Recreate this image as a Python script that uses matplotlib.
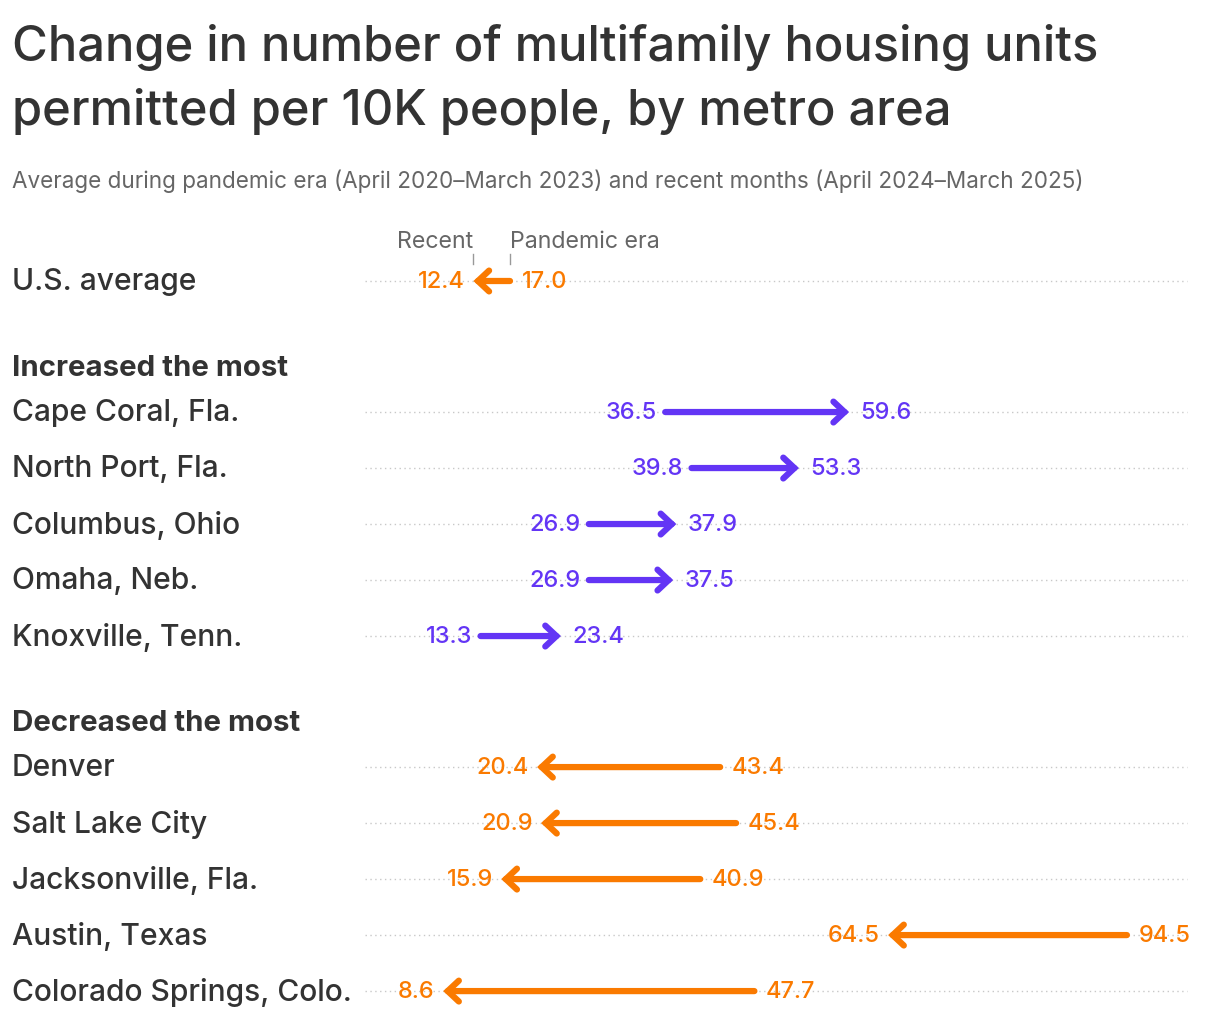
import numpy as np
import matplotlib.pyplot as plt
from matplotlib.transforms import blended_transform_factory

plt.rcParams['font.family'] = ['Inter', 'DejaVu Sans']

# data
us_label = "U.S. average"
us_pandemic = 17.0
us_recent = 12.4

up_labels = ["Cape Coral, Fla.", "North Port, Fla.", "Columbus, Ohio", "Omaha, Neb.", "Knoxville, Tenn."]
up_pandemic = [36.5, 39.8, 26.9, 26.9, 13.3]
up_recent = [59.6, 53.3, 37.9, 37.5, 23.4]

down_labels = ["Denver", "Salt Lake City", "Jacksonville, Fla.", "Austin, Texas", "Colorado Springs, Colo."]
down_pandemic = [43.4, 45.4, 40.9, 94.5, 47.7]
down_recent = [20.4, 20.9, 15.9, 64.5, 8.6]

purple = '#6335f5'
orange = '#fa7a00'
dark = '#333333'
gray = '#666666'

W, H = 1220, 1024
fig = plt.figure(figsize=(W / 100, H / 100), dpi=100)
ax = fig.add_axes([0, 0, 1, 1])
ax.axis('off')

# pixel layout -> data limits
x0_px, px_per_unit = 374.7, 7.96
row_px, row0_px = 56, 281
ax.set_xlim(-x0_px / px_per_unit, (W - x0_px) / px_per_unit)
ax.set_ylim((H - row0_px) / row_px, -row0_px / row_px)

lab = blended_transform_factory(fig.transFigure, ax.transData)
left = 12 / W
nudge = 0.035  # lift text slightly so it centres on the line

# row positions
rows = []
y = 0.0
rows.append((y, us_label, us_pandemic, us_recent))
header_ys = []
for labels, pand, rec in [(up_labels, up_pandemic, up_recent),
                          (down_labels, down_pandemic, down_recent)]:
    y += 1.55
    header_ys.append(y)
    y += 0.79
    for i in range(len(labels)):
        rows.append((y, labels[i], pand[i], rec[i]))
        y += 1
    y -= 1

for hy, txt in zip(header_ys, ["Increased the most", "Decreased the most"]):
    ax.text(left, hy - nudge, txt, transform=lab, fontsize=21.2, fontweight='bold',
            color=dark, va='center_baseline', ha='left')

for ry, name, p, r in rows:
    ax.plot([-1.2, 102], [ry, ry], color='#c8c8c8', lw=1, dashes=(1, 2.5), zorder=1)
    ax.text(left, ry - nudge, name, transform=lab, fontsize=21.6, color=dark,
            fontweight='medium', va='center_baseline', ha='left')
    c = purple if r > p else orange
    ax.annotate('', xy=(r, ry), xytext=(p, ry),
                arrowprops=dict(arrowstyle='->,head_length=0.8,head_width=0.75',
                                lw=4.5, color=c, shrinkA=0, shrinkB=0,
                                capstyle='round', joinstyle='miter'), zorder=3)
    lo, hi = min(p, r), max(p, r)
    ax.annotate(f"{lo:.1f}", xy=(lo, ry - nudge), xytext=(-6, 0), textcoords='offset points',
                ha='right', va='center_baseline', fontsize=17, fontweight='medium', color=c)
    ax.annotate(f"{hi:.1f}", xy=(hi, ry - nudge), xytext=(8.3, 0), textcoords='offset points',
                ha='left', va='center_baseline', fontsize=17, fontweight='medium', color=c)

# legend-like labels above U.S. row
ax.plot([us_recent, us_recent], [-0.48, -0.30], color='#999999', lw=1)
ax.plot([us_pandemic, us_pandemic], [-0.48, -0.30], color='#999999', lw=1)
ax.text(us_recent, -0.74, "Recent", ha='right', va='center_baseline', fontsize=16.7, color=gray)
ax.text(us_pandemic, -0.74, "Pandemic era", ha='left', va='center_baseline', fontsize=16.7, color=gray)

fig.text(left, 1 - 24 / H, "Change in number of multifamily housing units\npermitted per 10K people, by metro area",
         fontsize=35.2, color=dark, fontweight='medium', va='top', ha='left', linespacing=1.45)
fig.text(left, 1 - 179 / H,
         "Average during pandemic era (April 2020\u2013March 2023) and recent months (April 2024\u2013March 2025)",
         fontsize=16.2, color=gray, va='center_baseline', ha='left')

fig.savefig('out.png', dpi=100)
